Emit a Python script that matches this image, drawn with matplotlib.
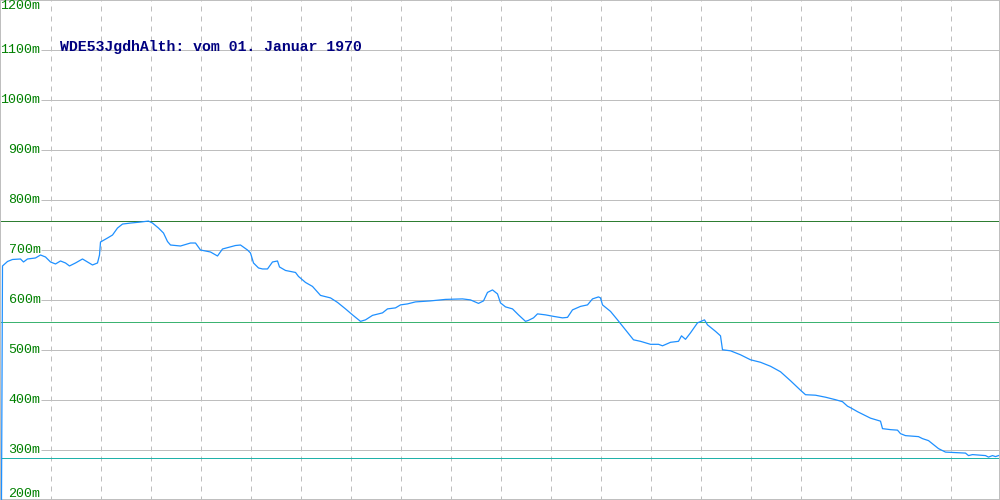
import numpy as np
import matplotlib
matplotlib.use("Agg")
import matplotlib.pyplot as plt

# Höhenprofil (Distanz in Bildpunkten, Höhe in m)
dist = [1, 2, 7, 12, 20, 23, 27, 35, 40, 45, 50, 55, 60, 65, 69, 75, 82, 87, 92, 97,
        99, 100, 107, 112, 117, 122, 130, 140, 148, 152, 158, 163, 167, 170, 180, 190,
        195, 200, 210, 217, 222, 235, 240, 247, 250, 253, 258, 262, 267, 272, 277, 279,
        285, 295, 298, 305, 312, 320, 330, 337, 345, 352, 360, 365, 372, 382, 387, 395,
        400, 407, 415, 430, 445, 462, 470, 478, 483, 487, 492, 497, 500, 505, 512, 518,
        525, 528, 533, 537, 545, 553, 562, 567, 572, 580, 587, 592, 598, 600, 602, 610,
        617, 625, 633, 640, 650, 658, 662, 670, 678, 681, 685, 690, 697, 704, 707, 715,
        720, 722, 730, 740, 750, 760, 770, 780, 790, 800, 805, 815, 825, 835, 842, 847,
        850, 857, 863, 870, 880, 882, 890, 897, 900, 905, 918, 922, 928, 933, 938, 945,
        965, 968, 972, 985, 988, 992, 995, 998]
elev = [200, 668, 677, 681, 682, 676, 682, 684, 690, 686, 676, 672, 678, 674, 668, 674,
        682, 676, 670, 674, 690, 716, 724, 730, 744, 752, 754, 756, 758, 754, 744, 734,
        717, 710, 708, 714, 714, 700, 696, 688, 702, 709, 710, 700, 694, 674, 664, 662,
        662, 676, 678, 666, 659, 655, 647, 635, 627, 609, 604, 595, 582, 570, 557, 560,
        569, 574, 582, 584, 590, 592, 596, 598, 601, 602, 600, 593, 598, 615, 620, 612,
        594, 586, 582, 570, 557, 559, 564, 572, 570, 567, 564, 565, 580, 587, 590, 602,
        606, 604, 590, 577, 560, 540, 520, 517, 511, 511, 508, 515, 517, 528, 521, 534,
        554, 560, 550, 537, 528, 500, 498, 490, 480, 475, 467, 456, 438, 419, 410, 409,
        405, 400, 396, 387, 384, 376, 370, 363, 357, 342, 340, 339, 332, 328, 326, 322,
        318, 310, 302, 295, 293, 288, 290, 288, 285, 288, 286, 288]

max_level = 758
mid_level = 556
min_level = 284
y_ticks = [200, 300, 400, 500, 600, 700, 800, 900, 1000, 1100, 1200]
title = "WDE53JgdhAlth: vom 01. Januar 1970"

grid_col = "#bebebe"
mono = ["Liberation Mono", "DejaVu Sans Mono"]
px = 0.72  # eine Linie von 1 Pixel

fig = plt.figure(figsize=(10, 5), dpi=100)
ax = fig.add_axes([0, 0, 1, 1])
# halbes Pixel versetzt, damit 1-Pixel-Linien scharf auf Pixelmitten liegen
ax.set_xlim(-0.5, 999.5)
ax.set_ylim(199, 1201)
ax.set_xticks([])
ax.set_yticks([])
for s in ax.spines.values():
    s.set_color(grid_col)
    s.set_linewidth(1.4)

# Raster
ax.vlines(np.arange(50, 1000, 50), 190, 1210, colors=grid_col, lw=px,
          linestyles=(0, (5, 5)), snap=True, zorder=1)
ax.hlines(y_ticks[1:-1], 40, 1000, colors=grid_col, lw=px, snap=True, zorder=1)

# Beschriftung der Höhen
for v in y_ticks:
    va = "top" if v == 1200 else ("bottom" if v == 200 else "center")
    ax.text(40, v, f"{v}m", color="#008000", fontsize=9.6, family=mono,
            ha="right", va=va, zorder=3)

# Max / Mittel / Min
ax.axhline(max_level, color="#2e7d32", lw=px, snap=True, zorder=2)
ax.axhline(mid_level, color="#3cb371", lw=px, snap=True, zorder=2)
ax.axhline(min_level, color="#20b2aa", lw=px, snap=True, zorder=2)

ax.plot(dist, elev, color="#1e90ff", lw=0.9, zorder=4)

ax.text(60, 1106, title, color="#000080", fontsize=10.75, family=mono,
        fontweight="bold", ha="left", va="center", zorder=5)

fig.savefig("out.png", dpi=100)
